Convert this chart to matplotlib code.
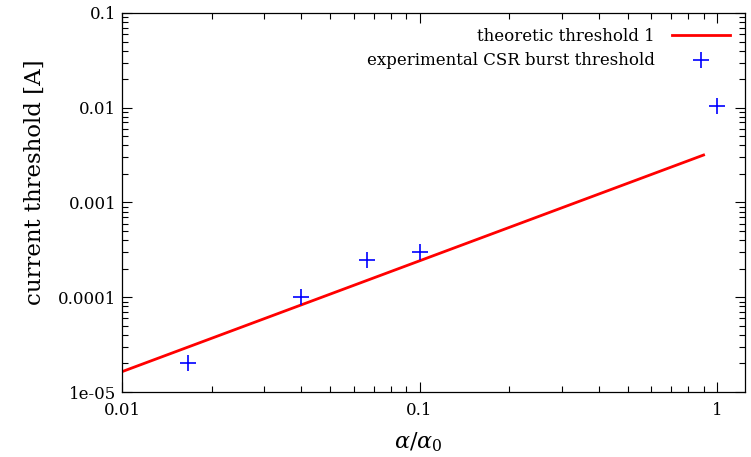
import matplotlib
matplotlib.use("Agg")
import matplotlib.pyplot as plt
from matplotlib.ticker import FixedLocator, FixedFormatter, LogLocator, NullFormatter

plt.rcParams['font.family'] = ['DejaVu Serif']
plt.rcParams['mathtext.fontset'] = 'dejavuserif'

# theoretical threshold line (power law, drawn between its end points)
theory_alpha = [0.01, 0.9]
theory_current = [1.64e-5, 3.17e-3]

# measured CSR burst thresholds
exp_alpha = [0.0166, 0.04, 0.0665, 0.1, 1.0]
exp_current = [2.0e-5, 1.0e-4, 2.5e-4, 3.0e-4, 1.05e-2]

x_ticks = [0.01, 0.1, 1]
x_tick_labels = ['0.01', '0.1', '1']
y_ticks = [1e-5, 1e-4, 1e-3, 1e-2, 1e-1]
y_tick_labels = ['1e-05', '0.0001', '0.001', '0.01', '0.1']

fig = plt.figure(figsize=(7.51, 4.57), dpi=100)
ax = fig.add_axes([0.1625, 0.1422, 0.8295, 0.8294])

ax.plot(theory_alpha, theory_current, color='#ff0000', lw=2.0,
        label='theoretic threshold 1')
ax.plot(exp_alpha, exp_current, linestyle='none', marker='+', ms=11,
        mew=1.2, color='#0000ff', label='experimental CSR burst threshold')

ax.set_xscale('log')
ax.set_yscale('log')
ax.set_xlim(0.01, 1.24)
ax.set_ylim(1e-5, 0.1)

ax.xaxis.set_major_locator(FixedLocator(x_ticks))
ax.xaxis.set_major_formatter(FixedFormatter(x_tick_labels))
ax.yaxis.set_major_locator(FixedLocator(y_ticks))
ax.yaxis.set_major_formatter(FixedFormatter(y_tick_labels))
ax.xaxis.set_minor_locator(LogLocator(base=10, subs=range(2, 10)))
ax.yaxis.set_minor_locator(LogLocator(base=10, subs=range(2, 10)))
ax.xaxis.set_minor_formatter(NullFormatter())
ax.yaxis.set_minor_formatter(NullFormatter())

ax.tick_params(which='both', direction='in', top=True, right=True,
               labelsize=12, width=0.8, color='black')
ax.tick_params(which='major', length=7.5)
ax.tick_params(axis='y', which='major', pad=4)
ax.tick_params(axis='x', which='major', pad=7.5)
ax.tick_params(which='minor', length=4.5)
for s in ax.spines.values():
    s.set_linewidth(0.9)
    s.set_color('black')

ax.set_ylabel('current threshold [A]', fontsize=16.5)
ax.yaxis.set_label_coords(-0.123, 0.553)
ax.set_xlabel(r'$\alpha/\alpha_0$', fontsize=16)
ax.xaxis.set_label_coords(0.475, -0.10)

ax.legend(loc='upper right', frameon=False, markerfirst=False,
          fontsize=12, handlelength=3.5, handletextpad=1.0,
          borderaxespad=0.5, labelspacing=0.45)

fig.savefig('out.png', dpi=100)
